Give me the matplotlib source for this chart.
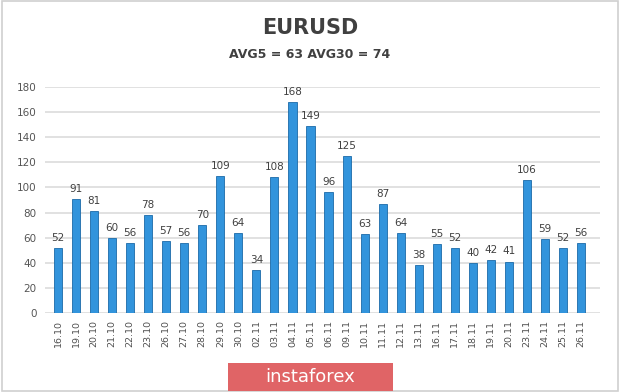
import numpy as np
import matplotlib
matplotlib.use("Agg")
import matplotlib.pyplot as plt
from matplotlib.patches import Rectangle

dates = ["16.10", "19.10", "20.10", "21.10", "22.10", "23.10", "26.10", "27.10",
         "28.10", "29.10", "30.10", "02.11", "03.11", "04.11", "05.11", "06.11",
         "09.11", "10.11", "11.11", "12.11", "13.11", "16.11", "17.11", "18.11",
         "19.11", "20.11", "23.11", "24.11", "25.11", "26.11"]
values = [52, 91, 81, 60, 56, 78, 57, 56, 70, 109, 64, 34, 108, 168, 149, 96,
          125, 63, 87, 64, 38, 55, 52, 40, 42, 41, 106, 59, 52, 56]
yticks = [0, 20, 40, 60, 80, 100, 120, 140, 160, 180]

fig = plt.figure(figsize=(6.2, 3.92), dpi=100)
fig.patch.set_facecolor("white")

# light frame around the image
fig.add_artist(Rectangle((0.003, 0.003), 0.994, 0.994, transform=fig.transFigure,
                         fill=False, edgecolor="#d0d0d0", linewidth=1.2))

ax = fig.add_axes([45 / 620, 1 - 313 / 392, 555 / 620, 226 / 392])
x = np.arange(len(values))
ax.bar(x, values, width=0.45, color="#3294dc", edgecolor="#1b6aa8", linewidth=0.6, zorder=3)
for xi, v in zip(x, values):
    ax.text(xi, v + 4, str(v), ha="center", va="bottom", fontsize=7.5, color="#404040")

ax.set_xlim(-0.72, len(values) + 0.05)
ax.set_ylim(0, 180)
ax.set_yticks(yticks)
ax.set_yticklabels([str(t) for t in yticks], fontsize=7.5, color="#555555")
ax.set_xticks(x)
ax.set_xticklabels(dates, rotation=90, fontsize=6.8, color="#505050")
ax.tick_params(length=0, pad=6)
ax.tick_params(axis="x", pad=5)
ax.grid(axis="y", color="#dcdcdc", linewidth=1.2, zorder=0)
for s in ax.spines.values():
    s.set_visible(False)

fig.text(0.5, 1 - 28 / 392, "EURUSD", ha="center", va="center", fontsize=15,
         fontweight="bold", color="#404040")
fig.text(0.5, 1 - 54 / 392, "AVG5 = 63 AVG30 = 74", ha="center", va="center",
         fontsize=9, fontweight="bold", color="#404040")

# instaforex banner
fig.add_artist(Rectangle((228 / 620, 1 - 391 / 392), 165 / 620, 28 / 392,
                         transform=fig.transFigure, facecolor="#e06466", edgecolor="none"))
fig.text(310 / 620, 1 - 377 / 392, "instaforex", ha="center", va="center",
         fontsize=13, color="white")

fig.savefig("out.png", dpi=100)
